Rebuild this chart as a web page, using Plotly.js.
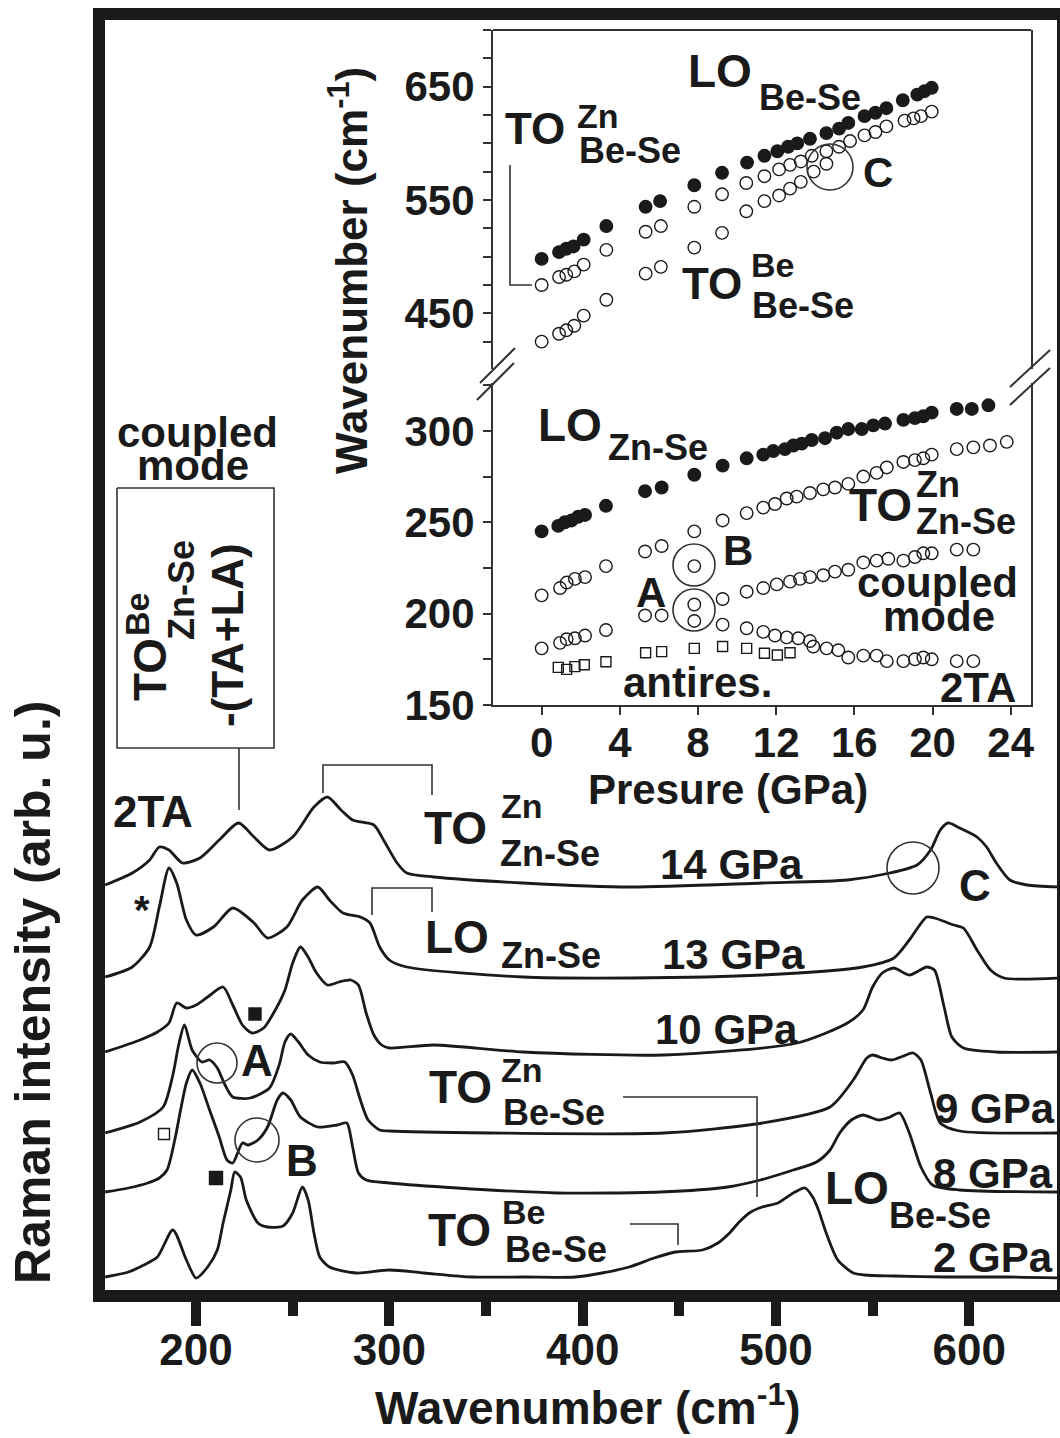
<!DOCTYPE html>
<html><head><meta charset="utf-8">
<script src="https://cdn.plot.ly/plotly-3.0.1.min.js"></script>
<style>html,body{margin:0;padding:0;background:#fff;overflow:hidden}#chart{width:1060px;height:1438px}</style>
</head><body><div id="chart"></div>
<script>
// ---------------- Main panel: Raman spectra (wavenumber cm-1, stacked intensity arb. u.)
const wn2GPa  = [153,165,173,180,188,195,200,206,211,214,218,220,223,226,232,237,245,250,255,258,261,264,269,283,300,318,343,370,396,410,424,437,448,462,470,476,481,487,493,501,509,515,519,522,526,532,540,546,561,588,620,646];
const int2GPa = [13,18,25,33,60,30,12,23,40,67,100,118,113,90,67,63,64,77,103,90,57,33,23,17,20,17,13,13,13,17,23,32,38,40,47,57,68,78,83,87,97,102,93,80,57,30,17,15,14,13,13,12];
const wn8GPa  = [153,165,175,181,185,189,192,195,198,202,207,212,216,219,224,227,232,237,242,245,249,254,263,273,278,281,284,288,300,335,387,440,475,492,509,521,528,533,539,545,553,559,564,569,575,581,595,646];
const int8GPa = [98,102,107,112,120,150,180,207,220,207,180,153,130,127,147,145,150,163,190,197,190,173,163,165,167,143,117,110,107,102,97,98,103,110,120,128,140,157,170,175,170,173,177,157,123,105,100,98];
const wn9GPa  = [153,171,183,188,191,194,198,203,207,211,215,219,228,238,243,246,249,253,258,264,271,277,281,285,289,295,300,352,442,493,528,540,547,550,555,560,566,571,575,580,585,595,646];
const int9GPa = [157,168,183,215,245,265,240,228,230,222,205,193,192,202,225,248,256,248,235,228,227,228,215,190,170,160,159,157,157,167,183,210,232,235,232,230,234,237,230,197,167,159,157];
const wn10GPa  = [153,171,180,186,190,195,200,206,214,219,224,229,235,241,246,250,254,258,262,268,274,280,284,288,292,296,300,323,369,442,511,537,545,550,555,561,569,578,582,587,591,597,614,646];
const int10GPa = [238,250,258,267,287,282,285,293,303,285,265,257,262,280,300,327,343,333,318,305,308,310,305,277,255,245,242,245,238,235,247,267,280,303,317,322,315,323,320,283,253,242,238,238];
const wn13GPa  = [153,167,176,181,186,190,195,200,209,219,230,237,247,255,263,269,276,285,290,295,300,309,369,425,493,545,561,569,578,582,592,597,604,611,618,646];
const int13GPa = [313,323,343,383,422,407,370,355,363,382,367,352,363,390,403,390,377,373,367,343,330,323,313,312,315,323,332,350,373,372,365,362,340,320,312,312];
const wn14GPa  = [153,167,176,181,186,193,202,212,222,230,238,250,261,268,275,281,292,297,304,309,323,369,425,493,537,559,573,580,585,589,595,604,609,614,621,630,646];
const int14GPa = [405,417,430,443,440,427,432,450,467,453,440,453,483,493,480,470,465,450,427,417,413,407,403,407,410,417,425,440,460,467,462,453,443,427,410,405,403];

// ---------------- Inset: mode frequencies (cm-1) versus pressure (GPa)
const loBeSeP  = [0,0.89,1.26,1.63,2.15,3.31,5.32,6.06,7.81,9.23,10.51,11.40,12.06,12.61,13.08,13.73,14.57,15.22,15.69,16.52,17.08,17.64,18.48,19.22,19.59,19.96];
const loBeSeW  = [498,504,507,509,515,527,544,549,563,574,583,589,593,597,600,604,609,613,618,624,627,631,638,643,646,649];
const toZnBeSeP = [0,0.89,1.26,1.67,2.15,3.31,5.32,6.10,7.81,9.23,10.47,11.40,12.15,12.71,13.26,13.82,14.57,15.22,15.78,16.52,17.08,17.64,18.57,19.03,19.41,19.96];
const toZnBeSeW = [475,482,484,487,493,506,522,527,544,555,565,571,577,581,584,589,593,597,602,607,610,615,620,622,624,628];
const toBeBeSeP = [0,0.89,1.26,1.67,2.15,3.31,5.32,6.10,7.81,9.23,10.47,11.40,12.15,12.71,13.26,13.92,14.57];
const toBeBeSeW = [425,432,435,439,448,462,485,491,508,521,540,549,554,560,566,575,582];
const loZnSeP = [0,0.85,1.19,1.53,1.87,2.22,3.29,5.29,6.14,7.81,9.26,10.49,11.34,11.85,12.45,12.88,13.31,13.82,14.5,15.10,15.69,16.38,16.97,17.57,18.51,19.1,19.53,19.96,21.24,22.01,22.86];
const loZnSeW = [245,248,250,251,253,254,259,267,269,276,281,285,287,289,290,292,293,295,296,299,301,301,303,304,306,307,308,310,312,312,314];
const toZnZnSeP = [0,0.94,1.28,1.7,2.22,3.29,5.29,6.14,7.81,9.26,10.49,11.34,11.94,12.54,13.05,13.73,14.41,15.01,15.69,16.46,17.14,17.66,18.51,19.1,19.53,19.96,21.24,22.09,22.94,23.80];
const toZnZnSeW = [210,214,217,219,220,226,234,237,245,251,255,258,260,263,264,266,268,269,271,275,277,280,283,284,285,287,290,291,292,294];
const coupledLowP = [0,0.94,1.28,1.7,2.22,3.29,5.29,6.14,7.81,7.81,7.81];
const coupledLowW = [181,184,186,186.5,188,191,199,199,205,196,226];
const coupledP = [9.26,10.49,11.34,12.03,12.71,13.22,13.73,14.41,15.01,15.69,16.46,17.14,17.74,18.51,19.1,19.53,19.96,21.24,22.09];
const coupledW = [208,212,214,216,217.5,219,220,221,223,224,228,229,230,229,231,233,233,235,235];
const twoTAP = [9.26,10.49,11.34,11.94,12.54,13.13,13.73,13.9,14.58,15.18,15.69,16.46,17.14,17.66,18.51,19.1,19.53,19.96,21.24,22.09];
const twoTAW = [194,192,190,188,187,186.5,185,182,181,180,176,177,177,174,174,175,176,175,174,174];
const antiresP = [0.85,1.28,1.7,2.18,3.29,5.32,6.14,7.81,9.26,10.49,11.4,12.06,12.71];
const antiresW = [170.6,169.5,171,172,173.7,178.6,179.2,181,182,181,178.3,177.4,178.6];

// ---------------- geometry helpers (page pixels -> paper)
const PL=105, PR=1057, PT=20, PB=1290;
const fx = x => (x-PL)/(PR-PL);
const fy = y => (PB-y)/(PB-PT);
const FONT = 'Liberation Sans, Arial, Helvetica, sans-serif';
const INK = '#1a1a1a';

const spectra = [
  [wn2GPa,int2GPa],[wn8GPa,int8GPa],[wn9GPa,int9GPa],[wn10GPa,int10GPa],[wn13GPa,int13GPa],[wn14GPa,int14GPa]
];
const traces = spectra.map(s => ({
  x:s[0], y:s[1], type:'scatter', mode:'lines', xaxis:'x', yaxis:'y',
  line:{color:INK, width:2.8, shape:'spline', smoothing:0.7}, hoverinfo:'skip', showlegend:false
}));
function pts(P,W,ya,symbol){
  return {x:P, y:W, type:'scatter', mode:'markers', xaxis:'x2', yaxis:ya, showlegend:false, hoverinfo:'skip',
    marker:{symbol:symbol, size:symbol.indexOf('square')>=0?10:12.5, color:INK, line:{color:INK, width:1.4}}};
}
traces.push(pts(loBeSeP,loBeSeW,'y3','circle'));
traces.push(pts(toZnBeSeP,toZnBeSeW,'y3','circle-open'));
traces.push(pts(toBeBeSeP,toBeBeSeW,'y3','circle-open'));
traces.push(pts(loZnSeP,loZnSeW,'y2','circle'));
traces.push(pts(toZnZnSeP,toZnZnSeW,'y2','circle-open'));
traces.push(pts(coupledLowP,coupledLowW,'y2','circle-open'));
traces.push(pts(coupledP,coupledW,'y2','circle-open'));
traces.push(pts(twoTAP,twoTAW,'y2','circle-open'));
traces.push(pts(antiresP,antiresW,'y2','square-open'));

const annotations = [];
function A(text,x,y,size,angle){
  annotations.push({text:text, x:fx(x), y:fy(y), xref:'paper', yref:'paper', xanchor:'center', yanchor:'middle',
    showarrow:false, textangle:angle||0, font:{family:FONT, size:size, color:INK, weight:'bold'}});
}
// main panel labels
A('2TA',153,811,44);
A('*',142,910,40);
A('coupled',197,432,42); A('mode',193,466,42);
A('TO',150,670,46,-90); A('Be',137,615,34,-90); A('Zn-Se',181,590,36,-90); A('-(TA+LA)',227,635,44,-90);
A('TO',455,828,46); A('Zn',522,806,34); A('Zn-Se',550,853,36);
A('14 GPa',731,864,42);
A('C',975,885,44);
A('13 GPa',733,954,42);
A('LO',457,937,46); A('Zn-Se',551,956,36);
A('10 GPa',726,1029,42);
A('A',257,1060,44);
A('TO',460,1087,46); A('Zn',522,1070,34); A('Be-Se',554,1112,36);
A('9 GPa',995,1108,42);
A('B',302,1160,44);
A('8 GPa',993,1173,42);
A('LO',857,1188,46); A('Be-Se',940,1215,36);
A('2 GPa',993,1257,42);
A('TO',459,1230,46); A('Be',523,1212,34); A('Be-Se',556,1249,36);
A('Wavenumber (cm<sup>-1</sup>)',588,1405,46);
A('Raman intensity (arb. u.)',33,993,50,-90);
// inset labels
A('LO',720,71,46); A('Be-Se',810,97,36);
A('TO',535,128,44); A('Zn',598,116,34); A('Be-Se',630,151,36);
A('TO',712,283,44); A('Be',772,265,34); A('Be-Se',803,305,36);
A('C',878,173,42);
A('LO',570,425,46); A('Zn-Se',658,447,36);
A('TO',880,505,46); A('Zn',938,484,36); A('Zn-Se',966,521,36);
A('coupled',937,582,42); A('mode',939,616,42);
A('2TA',978,687,42);
A('antires.',697,682,42);
A('B',738,551,42); A('A',651,592,42);
A('Wavenumber (cm<sup>-1</sup>)',348,271,44,-90);
A('Presure (GPa)',728,789,42);

const shapes = [];
const LW = 1.6, LC = '#333';
function path(p,w){ shapes.push({type:'path', xref:'paper', yref:'paper', line:{color:LC,width:w||LW},
  path:'M'+p.map(q=>fx(q[0])+','+fy(q[1])).join(' L')}); }
function circ(cx,cy,r){ shapes.push({type:'circle', xref:'paper', yref:'paper', line:{color:LC,width:LW},
  x0:fx(cx-r), x1:fx(cx+r), y0:fy(cy+r), y1:fy(cy-r)}); }
function sq(cx,cy,s,filled){ shapes.push({type:'rect', xref:'paper', yref:'paper', line:{color:INK,width:1.4},
  fillcolor: filled?INK:'rgba(0,0,0,0)', x0:fx(cx-s/2), x1:fx(cx+s/2), y0:fy(cy+s/2), y1:fy(cy-s/2)}); }
path([[117,488],[274,488],[274,748],[117,748],[117,488]]);
path([[239,748],[239,810]]);
path([[323,793],[323,765],[432,765],[432,795]]);
path([[372,915],[372,888],[432,888],[432,912]]);
path([[623,1097],[757,1097],[757,1197]]);
path([[630,1224],[678,1224],[678,1245]]);
path([[510,165],[510,285],[532,285]]);
path([[493,30],[1031,30]],2);
path([[480,383],[515,348]],2); path([[477,400],[514,363]],2);
path([[1010,387],[1050,350]],2); path([[1010,405],[1050,368]],2);
circ(913,868,26); circ(217,1063,20); circ(257,1140,22);
circ(830,167,23); circ(694,565,21); circ(694,610,21);
sq(255,1014,12,true); sq(164,1134,11,false); sq(216,1178,13,true);

const tf = {family:FONT, size:44, color:INK, weight:'bold'};
const tf2 = {family:FONT, size:42, color:INK, weight:'bold'};
const layout = {
  width:1060, height:1438, margin:{l:PL, r:1060-PR, t:PT, b:1438-PB},
  paper_bgcolor:'#fff', plot_bgcolor:'rgba(0,0,0,0)', showlegend:false,
  xaxis:{domain:[0,1], range:[152.9,645.4], anchor:'y', showline:true, linewidth:12, linecolor:INK, mirror:true,
    ticks:'outside', ticklen:24, tickwidth:10, tickcolor:INK, tick0:200, dtick:100, ticklabelstandoff:-14,
    minor:{ticks:'outside', dtick:50, ticklen:14, tickwidth:10, tickcolor:INK},
    tickfont:tf, showgrid:false, zeroline:false},
  yaxis:{domain:[0,1], range:[0,1270], anchor:'x', showline:true, linewidth:12, linecolor:INK, mirror:true,
    ticks:'', showticklabels:false, showgrid:false, zeroline:false},
  xaxis2:{domain:[fx(493),fx(1031)], range:[-2.49,25.04], anchor:'y2', showline:true, linewidth:2, linecolor:LC,
    ticks:'outside', ticklen:8, tickwidth:2, tickcolor:LC, tick0:0, dtick:4, ticklabelstandoff:-8,
    tickfont:tf2, showgrid:false, zeroline:false},
  yaxis2:{domain:[fy(705),fy(383)], range:[150,326.2], anchor:'x2', showline:true, linewidth:2, linecolor:LC, mirror:true,
    ticks:'outside', ticklen:8, tickwidth:2, tickcolor:LC, tick0:150, dtick:50,
    minor:{ticks:'outside', dtick:25, ticklen:8, tickwidth:2, tickcolor:LC},
    tickfont:tf2, showgrid:false, zeroline:false},
  yaxis3:{domain:[fy(369.3),fy(30)], range:[400.6,700], anchor:'x2', showline:true, linewidth:2, linecolor:LC, mirror:true,
    ticks:'outside', ticklen:8, tickwidth:2, tickcolor:LC, tick0:450, dtick:100,
    minor:{ticks:'outside', dtick:25, ticklen:8, tickwidth:2, tickcolor:LC},
    tickfont:tf2, showgrid:false, zeroline:false},
  annotations:annotations, shapes:shapes
};
Plotly.newPlot('chart', traces, layout, {staticPlot:true, displayModeBar:false});
</script></body></html>
